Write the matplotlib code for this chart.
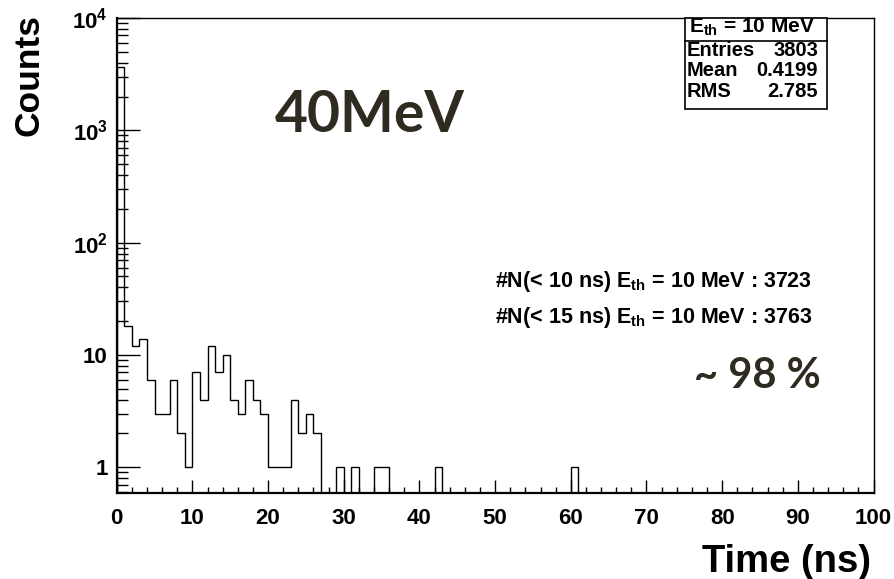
import numpy as np
import matplotlib
matplotlib.use("Agg")
import matplotlib.pyplot as plt
from matplotlib.patches import Rectangle
from matplotlib.lines import Line2D
from matplotlib.ticker import FixedLocator, FixedFormatter, LogLocator, MultipleLocator, NullFormatter

# ---- data: hit-time histogram, 1 ns bins from 0 to 100 ns ----
bin_edges = np.arange(0, 101, 1)
counts = np.zeros(100)
filled_bins = [0, 1, 2, 3, 4, 5, 6, 7, 8, 9,
               10, 11, 12, 13, 14, 15, 16, 17, 18, 19,
               20, 21, 22, 23, 24, 25, 26,
               29, 31, 34, 35, 42, 60]
filled_counts = [3658, 18, 12, 14, 6, 3, 3, 6, 2, 1,
                 7, 4, 12, 7, 10, 4, 3, 6, 4, 3,
                 1, 1, 1, 4, 2, 3, 2,
                 1, 1, 1, 1, 1, 1]
counts[filled_bins] = filled_counts

x_ticks = [0, 10, 20, 30, 40, 50, 60, 70, 80, 90, 100]
y_ticks = [1, 10, 100, 1000, 10000]
y_tick_labels = ["1", "10", "10$^{2}$", "10$^{3}$", "10$^{4}$"]

stats_header = "E$_{\\mathrm{th}}$ = 10 MeV"
stats_rows = [("Entries", "3803"), ("Mean", "0.4199"), ("RMS", "2.785")]
count_lines = ["#N(< 10 ns) E$_{\\mathrm{th}}$ = 10 MeV : 3723",
               "#N(< 15 ns) E$_{\\mathrm{th}}$ = 10 MeV : 3763"]
energy_label = "40MeV"
fraction_label = "~ 98 %"

# ---- style ----
plt.rcParams["font.family"] = ["Liberation Sans", "DejaVu Sans"]
plt.rcParams["font.weight"] = "bold"
plt.rcParams["mathtext.fontset"] = "custom"
plt.rcParams["mathtext.rm"] = "Liberation Sans:bold"
plt.rcParams["mathtext.it"] = "Liberation Sans:bold"
plt.rcParams["mathtext.bf"] = "Liberation Sans:bold"

W, H = 894, 579
fig = plt.figure(figsize=(W / 100, H / 100), dpi=100)


def fx(px):
    return px / W


def fy(py):
    return 1 - py / H


ax_l, ax_r, ax_t, ax_b = 116.7, 873.5, 18.0, 493.0
ax = fig.add_axes([fx(ax_l), fy(ax_b), fx(ax_r - ax_l), (ax_b - ax_t) / H])

y_min, y_max = 0.59, 1.0e4
floor = 1e-3
plotted = np.where(counts > 0, counts, floor)
ax.stairs(plotted, bin_edges, baseline=floor, color="black", linewidth=1.0)

ax.set_xlim(0, 100)
ax.set_yscale("log")
ax.set_ylim(y_min, y_max)

ax.xaxis.set_major_locator(FixedLocator(x_ticks))
ax.xaxis.set_minor_locator(MultipleLocator(2))
ax.yaxis.set_major_locator(FixedLocator(y_ticks))
ax.yaxis.set_major_formatter(FixedFormatter(y_tick_labels))
ax.yaxis.set_minor_locator(LogLocator(base=10, subs=np.arange(2, 10)))
ax.yaxis.set_minor_formatter(NullFormatter())

ax.tick_params(axis="both", which="both", direction="in", top=False, right=False,
               width=1.0, color="black")
ax.tick_params(axis="x", which="major", length=9.4, pad=11, labelsize=16)
ax.tick_params(axis="x", which="minor", length=4.3)
ax.tick_params(axis="y", which="major", length=16.5, pad=6.5, labelsize=16)
ax.tick_params(axis="y", which="minor", length=8.0)
for lab in ax.get_xticklabels() + ax.get_yticklabels():
    lab.set_fontweight("bold")

for side in ("left", "bottom"):
    ax.spines[side].set_linewidth(1.6)
for side in ("top", "right"):
    ax.spines[side].set_linewidth(1.0)

# axis titles
fig.text(fx(29), fy(14), "Counts", rotation=90, ha="center", va="top",
         fontsize=25.5, fontweight="bold")
fig.text(fx(871), fy(572), "Time (ns)", ha="right", va="baseline",
         fontsize=27.5, fontweight="bold")

# statistics box
bx_l, bx_r, bx_t, bx_b = 685, 827, 18, 109
fig.add_artist(Rectangle((fx(bx_l), fy(bx_b)), fx(bx_r - bx_l), (bx_b - bx_t) / H,
                         transform=fig.transFigure, facecolor="white",
                         edgecolor="black", linewidth=1.2, zorder=5))
fig.add_artist(Line2D([fx(bx_l), fx(bx_r)], [fy(40.7), fy(40.7)],
                      transform=fig.transFigure, color="black", linewidth=1.2, zorder=6))
fig.text(fx(752), fy(33), stats_header, ha="center", va="baseline",
         fontsize=15, fontweight="bold", zorder=7)
for i, (name, val) in enumerate(stats_rows):
    base = 56 + i * 20.5
    fig.text(fx(687), fy(base), name, ha="left", va="baseline",
             fontsize=14.5, fontweight="bold", zorder=7)
    fig.text(fx(818), fy(base), val, ha="right", va="baseline",
             fontsize=14.5, fontweight="bold", zorder=7)

# count annotations
for i, line in enumerate(count_lines):
    fig.text(fx(495), fy(287 + i * 36), line, ha="left", va="baseline",
             fontsize=15.5, fontweight="bold")

# large labels
fig.text(fx(275), fy(132), energy_label, ha="left", va="baseline",
         fontsize=41, fontweight="bold", family="Lato", color="#2F2B20")
fig.text(fx(694), fy(388), fraction_label, ha="left", va="baseline",
         fontsize=30, fontweight="bold", family="Lato", color="#2F2B20")

fig.savefig("out.png", dpi=100)
